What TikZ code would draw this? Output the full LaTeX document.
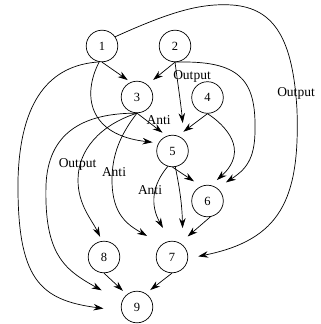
\documentclass[tikz,border=0pt]{standalone}
\usepackage{fontspec}
\setmainfont{Liberation Serif}
\usetikzlibrary{arrows.meta}

\tikzset{
  state/.style={draw, circle, line width=0.7pt, minimum size=31.6pt, inner sep=0pt,
    font=\fontsize{12.5pt}{15pt}\selectfont},
  lbl/.style={inner sep=0pt, anchor=base, font=\fontsize{13.5pt}{16pt}\selectfont},
  arr/.style={line width=0.7pt, -{Stealth[length=10pt,width=6.5pt]}}
}

\begin{document}
\begin{tikzpicture}[x=1pt,y=-1pt]
\useasboundingbox (0,0) rectangle (321,324);

\node[state] (n1) at (102,46) {1};
\node[state] (n2) at (175,46) {2};
\node[state] (n3) at (137,97) {3};
\node[state] (n4) at (207.5,97.5) {4};
\node[state] (n5) at (172.5,151) {5};
\node[state] (n6) at (207.5,201) {6};
\node[state] (n7) at (172,257) {7};
\node[state] (n8) at (104,257) {8};
\node[state] (n9) at (137,307) {9};

\draw[arr, shorten >=3.6pt] (n1.south) -- (n3.113);
\draw[arr, shorten >=7.4pt] (n2.south) -- (n3.50);
\draw[arr, shorten >=6.7pt] (n4.south) -- (n5.70);
\draw[arr, shorten >=5.3pt] (n3.south) -- (n5.111);
\draw[arr, shorten >=8.6pt] (n5.south) -- (n6.113);
\draw[arr, shorten >=10pt] (n6.280) -- (n7.60);
\draw[arr, shorten >=5.3pt] (n8.south) -- (n9.129);
\draw[arr, shorten >=5.6pt] (n7.south) -- (n9.57);

\draw[arr, shorten >=17pt] (n2.south) .. controls (178,85) and (181,105) .. (n5.43);
\draw[arr, shorten >=6pt] (n1.260) .. controls (82,95) and (88,135) .. (n5.150);
\draw[arr, shorten >=18pt] (n1.260) .. controls (50,65) and (20,100) .. (18,180)
  .. controls (17,280) and (40,300) .. (n9.194);
\draw[arr, shorten >=10.3pt] (n1.35) .. controls (170,12) and (200,3) .. (232,5)
  .. controls (275,8) and (293,40) .. (297,110)
  .. controls (300,200) and (280,240) .. (n7.355);
\draw[arr, shorten >=10.4pt] (n2.south) .. controls (240,60) and (256,80) .. (255,130)
  .. controls (255,160) and (245,170) .. (n6.53);
\draw[arr, shorten >=7.8pt] (n4.south) .. controls (225,125) and (250,150) .. (n6.77);
\draw[arr, shorten >=15pt] (n5.253) .. controls (152,185) and (150,205) .. (n7.96);
\draw[arr, shorten >=17pt] (n5.280) .. controls (180,190) and (182,205) .. (n7.47);
\draw[arr, shorten >=17pt] (n3.south) .. controls (120,135) and (112,155) .. (112,180)
  .. controls (112,215) and (128,225) .. (n7.129);
\draw[arr, shorten >=4.6pt] (n3.south) .. controls (100,125) and (78,150) .. (78,180)
  .. controls (78,205) and (92,220) .. (n8.97);
\draw[arr, shorten >=23pt] (n3.south) .. controls (80,113) and (48,135) .. (46,185)
  .. controls (44,255) and (65,270) .. (n9.160);

\node[lbl] (lo25) at (192,79) {Output};
\node[lbl] (lo17) at (296,96.5) {Output};
\node[lbl] (la35) at (158.7,124) {Anti};
\node[lbl] (lo38) at (77.5,167.8) {Output};
\node[lbl] (la37) at (114,176) {Anti};
\node[lbl] (la57) at (150,194) {Anti};
\end{tikzpicture}
\end{document}
